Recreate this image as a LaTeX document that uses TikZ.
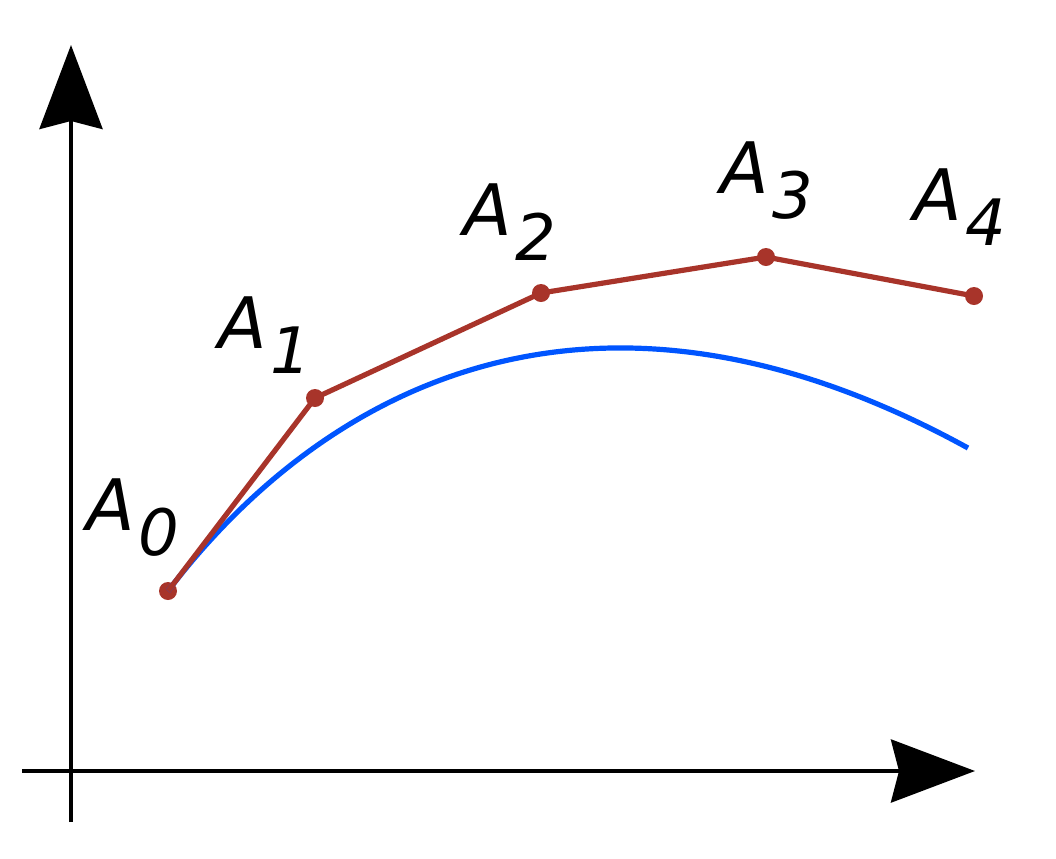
\documentclass[tikz,border=0pt]{standalone}
\usepackage{fontspec}
\setmainfont{DejaVu Sans}
\usetikzlibrary{arrows.meta}
\definecolor{polyred}{RGB}{168,52,42}
\definecolor{curveblue}{RGB}{0,85,255}
\newcommand{\lbl}[1]{\fontsize{35.5}{40}\selectfont\itshape A\kern2pt\raisebox{-12.5pt}{\fontsize{32}{36}\selectfont #1}}
\tikzset{
  axis/.style={line width=2pt, -{Stealth[length=42pt, width=31.5pt, inset=4pt]}},
  ctrlpt/.style={circle, fill=polyred, inner sep=0pt, minimum size=9pt},
  polyline/.style={polyred, line width=2.6pt},
  bcurve/.style={curveblue, line width=2.6pt},
  ptlabel/.style={anchor=base west, inner sep=0pt}
}
\begin{document}
\begin{tikzpicture}[x=0.5pt, y=-0.5pt]
\useasboundingbox (0,0) rectangle (1056,858);
% axes
\coordinate (xs) at (22,771);
\coordinate (xe) at (975,771);
\coordinate (ys) at (71,822);
\coordinate (ye) at (71,45);
\draw[axis] (xs) -- (xe);
\draw[axis] (ys) -- (ye);
% control points
\node[ctrlpt] (a0) at (168,591) {};
\node[ctrlpt] (a1) at (315,398) {};
\node[ctrlpt] (a2) at (541,293) {};
\node[ctrlpt] (a3) at (766,257) {};
\node[ctrlpt] (a4) at (974,296) {};
% blue curve
\coordinate (cend) at (968,448);
\draw[bcurve] (a0.center) .. controls (319.5,392) and (588,239) .. (cend);
% red polyline
\draw[polyline, line join=round] (a0.center) -- (a1.center) -- (a2.center) -- (a3.center) -- (a4.center);
% labels
\node[ptlabel] (l0) at (86,530) {\lbl{0}};
\node[ptlabel] (l1) at (218,348) {\lbl{1}};
\node[ptlabel] (l2) at (463,235) {\lbl{2}};
\node[ptlabel] (l3) at (720,193) {\lbl{3}};
\node[ptlabel] (l4) at (913,220) {\lbl{4}};
\end{tikzpicture}
\end{document}
